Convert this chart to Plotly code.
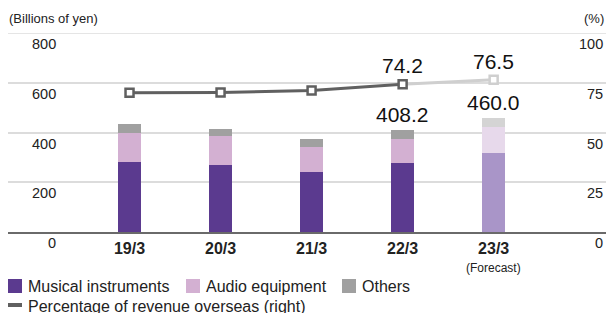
import plotly.graph_objects as go

categories = ["19/3", "20/3", "21/3", "22/3", "23/3"]
musical = [283, 269, 242, 279, 319]
audio = [116, 117, 100, 95, 102]
others = [36, 28, 31, 34.2, 39]
overseas_pct = [70.0, 70.1, 71.1, 74.2, 76.5]
total_labels = {"22/3": "408.2", "23/3": "460.0"}
pct_labels = {"22/3": "74.2", "23/3": "76.5"}
left_ticks = [0, 200, 400, 600, 800]
right_ticks = [0, 25, 50, 75, 100]

FONT = "Liberation Sans, Arial, sans-serif"
OFF = 8  # page body margin
W, H = 614 - OFF, 313 - OFF
PL, PR, PT, PB = 8, 612, 33, 232  # plot area in page pixels
L, R, T, B = PL - OFF, (W + OFF) - PR, PT - OFF, (H + OFF) - PB
PW, PH = PR - PL, PB - PT


def px(x):
    return (x - PL) / PW


def py(y):
    return (PB - y) / PH


mi_cols = ["#5b3a8f"] * 4 + ["#a995c8"]
ae_cols = ["#d3b0d2"] * 4 + ["#e7d9eb"]
ot_cols = ["#a0a0a0"] * 4 + ["#d4d4d4"]

fig = go.Figure()
bw = 0.253
fig.add_bar(x=categories, y=musical, marker=dict(color=mi_cols, line_width=0), width=bw, showlegend=False)
fig.add_bar(x=categories, y=audio, marker=dict(color=ae_cols, line_width=0), width=bw, showlegend=False)
fig.add_bar(x=categories, y=others, marker=dict(color=ot_cols, line_width=0), width=bw, showlegend=False)

fig.add_scatter(x=categories[3:], y=overseas_pct[3:], yaxis="y2", mode="lines",
                line=dict(color="#cfcfcf", width=3), showlegend=False)
fig.add_scatter(x=categories[:4], y=overseas_pct[:4], yaxis="y2", mode="lines+markers",
                line=dict(color="#606060", width=3),
                marker=dict(symbol="square", size=8, color="white", line=dict(color="#606060", width=2.5)),
                showlegend=False)
fig.add_scatter(x=categories[4:], y=overseas_pct[4:], yaxis="y2", mode="markers",
                marker=dict(symbol="square", size=8, color="white", line=dict(color="#cfcfcf", width=2.5)),
                showlegend=False)

annotations = []
shapes = [dict(type="line", xref="paper", yref="y", x0=0, x1=1, y0=800, y1=800,
               line=dict(color="#dcdcdc", width=1.5), layer="below")]

totals = [m + a + o for m, a, o in zip(musical, audio, others)]
for c, t in zip(categories, totals):
    if c in total_labels:
        annotations.append(dict(x=c, y=t, xref="x", yref="y", text=total_labels[c], showarrow=False,
                                yanchor="bottom", yshift=2, font=dict(size=21, color="#111", family=FONT)))
for c, p in zip(categories, overseas_pct):
    if c in pct_labels:
        annotations.append(dict(x=c, y=p, xref="x", yref="y2", text=pct_labels[c], showarrow=False,
                                yanchor="bottom", yshift=5, font=dict(size=21, color="#111", family=FONT)))

for v in left_ticks:
    annotations.append(dict(x=px(57.5), y=v, xref="paper", yref="y", text=str(v), showarrow=False,
                            xanchor="right", yanchor="middle", yshift=-11,
                            font=dict(size=14.5, color="#222", family=FONT)))
for v in right_ticks:
    annotations.append(dict(x=px(605), y=v, xref="paper", yref="y2", text=str(v), showarrow=False,
                            xanchor="right", yanchor="middle", yshift=-11,
                            font=dict(size=14.5, color="#222", family=FONT)))

annotations.append(dict(x=px(7), y=py(18), xref="paper", yref="paper", text="(Billions of yen)",
                        showarrow=False, xanchor="left", yanchor="middle",
                        font=dict(size=13, color="#222", family=FONT)))
annotations.append(dict(x=px(606), y=py(18), xref="paper", yref="paper", text="(%)",
                        showarrow=False, xanchor="right", yanchor="middle",
                        font=dict(size=13, color="#222", family=FONT)))
annotations.append(dict(x="23/3", y=py(268), xref="x", yref="paper", text="(Forecast)",
                        showarrow=False, xanchor="center", yanchor="middle",
                        font=dict(size=12, color="#222", family=FONT)))

legend_items = [("Musical instruments", "#5b3a8f", 8), ("Audio equipment", "#d3b0d2", 186), ("Others", "#a0a0a0", 342)]
for name, col, x0 in legend_items:
    shapes.append(dict(type="rect", xref="paper", yref="paper", x0=px(x0), x1=px(x0 + 14),
                       y0=py(293), y1=py(279), fillcolor=col, line_width=0))
    annotations.append(dict(x=px(x0 + 18), y=py(286.5), xref="paper", yref="paper", text=name,
                            showarrow=False, xanchor="left", yanchor="middle",
                            font=dict(size=16, color="#222", family=FONT)))
shapes.append(dict(type="line", xref="paper", yref="paper", x0=px(8), x1=px(22),
                   y0=py(305), y1=py(305), line=dict(color="#606060", width=4)))
annotations.append(dict(x=px(26), y=py(306), xref="paper", yref="paper",
                        text="Percentage of revenue overseas (right)",
                        showarrow=False, xanchor="left", yanchor="middle",
                        font=dict(size=16, color="#222", family=FONT)))

fig.update_layout(
    width=W, height=H, margin=dict(l=L, r=R, t=T, b=B, pad=0),
    barmode="stack", bargap=0,
    paper_bgcolor="white", plot_bgcolor="white",
    font=dict(family=FONT, color="#222"),
    showlegend=False,
    xaxis=dict(type="category", categoryorder="array", categoryarray=categories,
               range=[-1.335, 5.3], showgrid=False, showline=True, linecolor="#6a6a6a", linewidth=2,
               ticks="", tickfont=dict(size=16, color="#222", family=FONT, weight="bold"),
               ticklabelstandoff=1, fixedrange=True),
    yaxis=dict(range=[0, 800], tickvals=left_ticks, showticklabels=False, showgrid=True,
               gridcolor="#dcdcdc", gridwidth=1.5, zeroline=False, showline=False),
    yaxis2=dict(range=[0, 100], overlaying="y", side="right", showticklabels=False,
                showgrid=False, zeroline=False, showline=False),
    annotations=annotations, shapes=shapes,
)

fig.write_html("out.html")
